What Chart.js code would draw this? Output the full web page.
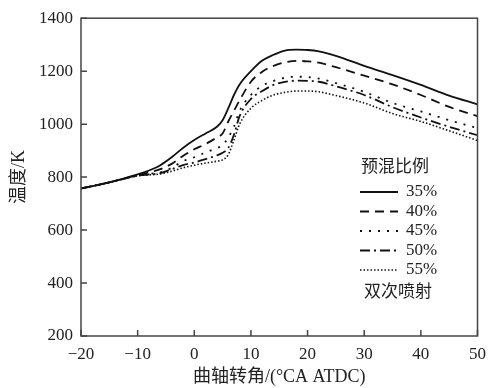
<!DOCTYPE html>
<html>
<head>
<meta charset="utf-8">
<script src="https://cdn.jsdelivr.net/npm/chart.js@4"></script>
<style>
  body { margin: 0; background: #fff; }
  #wrap { width: 494px; height: 388px; }
</style>
</head>
<body>
<div id="wrap"><canvas id="grafico"></canvas></div>
<script>
// dados (曲轴转角 x, 温度 y)
const angulos = [-20, -15, -10, -8, -6, -4, -2, 0, 2, 4, 5, 6, 7, 8, 10, 12, 14, 16, 18, 20, 22, 25, 30, 35, 40, 45, 50];
const t35 = [757, 780, 810, 825, 845, 875, 910, 940, 965, 990, 1015, 1060, 1110, 1150, 1200, 1240, 1262, 1278, 1281, 1280, 1275, 1258, 1220, 1185, 1148, 1108, 1075];
const t40 = [757, 780, 808, 818, 830, 850, 880, 905, 925, 950, 965, 1010, 1050, 1090, 1160, 1198, 1220, 1233, 1239, 1237, 1232, 1215, 1183, 1150, 1110, 1065, 1030];
const t45 = [757, 780, 806, 812, 818, 835, 860, 875, 893, 910, 920, 950, 990, 1050, 1110, 1145, 1163, 1175, 1179, 1178, 1172, 1155, 1122, 1080, 1048, 1015, 985];
const t50 = [757, 780, 805, 810, 815, 830, 845, 855, 868, 882, 892, 910, 960, 1030, 1095, 1125, 1148, 1160, 1164, 1163, 1160, 1143, 1110, 1064, 1025, 990, 958];
const t55 = [757, 780, 805, 808, 812, 822, 835, 845, 853, 860, 865, 885, 940, 1000, 1060, 1090, 1110, 1120, 1125, 1125, 1122, 1108, 1080, 1040, 1010, 975, 938];
const rotulos = ["35%", "40%", "45%", "50%", "55%"];
const xTicks = [-20, -10, 0, 10, 20, 30, 40, 50];
const yTicks = [200, 400, 600, 800, 1000, 1200, 1400];

const fonte = "'Liberation Serif', 'Noto Sans CJK SC', serif";
const tracos = [[], [9, 6], [2, 7], [10, 4, 2, 4], [1.5, 2]];
const series = [t35, t40, t45, t50, t55];

const datasets = series.map((s, i) => ({
    label: rotulos[i],
    data: s.map((v, k) => ({ x: angulos[k], y: v })),
    borderColor: "#111",
    borderWidth: i === 4 ? 1.6 : 1.8,
    borderDash: tracos[i],
    pointRadius: 0,
    cubicInterpolationMode: "monotone",
    fill: false
}));

// moldura, marcas internas e legenda dentro da área
const extras = {
    id: "extras",
    afterDraw(chart) {
        const ctx = chart.ctx;
        const a = chart.chartArea;
        const sx = chart.scales.x, sy = chart.scales.y;
        ctx.save();
        ctx.strokeStyle = "#444";
        ctx.lineWidth = 1.5;
        ctx.strokeRect(a.left, a.top, a.right - a.left, a.bottom - a.top);
        ctx.beginPath();
        xTicks.forEach(v => {
            const p = sx.getPixelForValue(v);
            ctx.moveTo(p, a.bottom);
            ctx.lineTo(p, a.bottom - 6);
        });
        yTicks.forEach(v => {
            const p = sy.getPixelForValue(v);
            ctx.moveTo(a.left, p);
            ctx.lineTo(a.left + 6, p);
        });
        ctx.stroke();

        // legenda
        ctx.fillStyle = "#222";
        ctx.textBaseline = "middle";
        ctx.font = "17px " + fonte;
        ctx.textAlign = "left";
        ctx.fillText("预混比例", 361, 168);
        chart.data.datasets.forEach((ds, i) => {
            const y = 192 + i * 19.5;
            ctx.strokeStyle = "#111";
            ctx.lineWidth = ds.borderWidth;
            ctx.setLineDash(ds.borderDash);
            ctx.beginPath();
            ctx.moveTo(360, y);
            ctx.lineTo(398, y);
            ctx.stroke();
            ctx.setLineDash([]);
            ctx.fillText(ds.label, 406, y);
        });
        ctx.fillText("双次喷射", 364, 293);
        ctx.restore();
    }
};

new Chart(document.getElementById("grafico").getContext("2d"), {
    type: "line",
    data: { datasets: datasets },
    plugins: [extras],
    options: {
        responsive: true,
        maintainAspectRatio: false,
        animation: false,
        layout: { padding: { top: 15, right: 16, left: 8, bottom: 0 } },
        plugins: { legend: { display: false }, tooltip: { enabled: false } },
        scales: {
            x: {
                type: "linear",
                min: -20,
                max: 50,
                afterFit: s => { s.height = 52; },
                afterBuildTicks: s => { s.ticks = xTicks.map(v => ({ value: v })); },
                grid: { display: false, drawTicks: false },
                border: { display: false },
                ticks: {
                    padding: 8,
                    color: "#222",
                    font: { family: fonte, size: 17 },
                    callback: v => String(v).replace("-", "\u2212")
                },
                title: {
                    display: true,
                    text: "曲轴转角/(°CA ATDC)",
                    color: "#222",
                    font: { family: fonte, size: 18 },
                    padding: { top: 0, bottom: 0 }
                }
            },
            y: {
                min: 200,
                max: 1400,
                afterFit: s => { s.width = 73; },
                afterBuildTicks: s => { s.ticks = yTicks.map(v => ({ value: v })); },
                grid: { display: false, drawTicks: false },
                border: { display: false },
                ticks: {
                    padding: 8,
                    color: "#222",
                    font: { family: fonte, size: 17 },
                    callback: v => String(v)
                },
                title: {
                    display: true,
                    text: "温度/K",
                    color: "#222",
                    font: { family: fonte, size: 18 },
                    padding: { top: 0, bottom: 0 }
                }
            }
        }
    }
});
</script>
</body>
</html>
